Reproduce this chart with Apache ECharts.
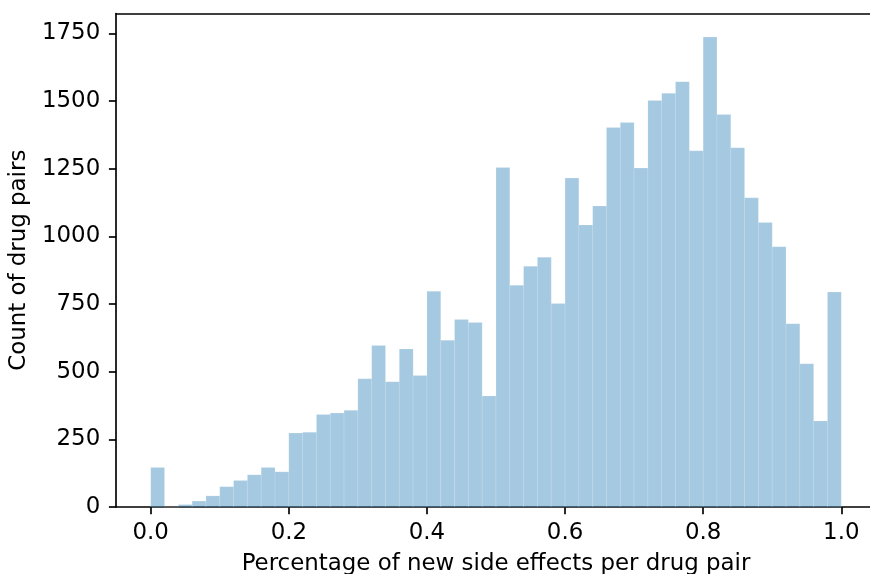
<!DOCTYPE html>
<html>
<head>
<meta charset="utf-8">
<script src="https://cdn.jsdelivr.net/npm/echarts@6/dist/echarts.min.js"></script>
<style>html,body{margin:0;padding:0;background:#fff;overflow:hidden;width:870px;height:574px}#c{position:absolute;left:0;top:0;width:876px;height:574px}</style>
</head>
<body>
<div id="c"></div>
<script>
const binLefts = [0.00,0.02,0.04,0.06,0.08,0.10,0.12,0.14,0.16,0.18,
                  0.20,0.22,0.24,0.26,0.28,0.30,0.32,0.34,0.36,0.38,
                  0.40,0.42,0.44,0.46,0.48,0.50,0.52,0.54,0.56,0.58,
                  0.60,0.62,0.64,0.66,0.68,0.70,0.72,0.74,0.76,0.78,
                  0.80,0.82,0.84,0.86,0.88,0.90,0.92,0.94,0.96,0.98];
const binWidth = 0.02;
const counts = [146,0,9,22,41,75,98,119,146,130,
                273,276,342,347,357,474,597,463,584,486,
                797,616,693,682,410,1254,819,889,923,752,
                1215,1042,1112,1402,1420,1252,1502,1528,1571,1316,
                1736,1450,1327,1142,1051,961,677,529,318,794];
const xTicks = [0.0,0.2,0.4,0.6,0.8,1.0];
const yTicks = [0,250,500,750,1000,1250,1500,1750];
const xLabel = 'Percentage of new side effects per drug pair';
const yLabel = 'Count of drug pairs';

const FONT = 'DejaVu Sans';
const FS = 22.9;
const data = binLefts.map((b, i) => [b, b + binWidth, counts[i]]);

const chart = echarts.init(document.getElementById('c'), null, {renderer: 'canvas', width: 876, height: 574});
chart.setOption({
  animation: false,
  backgroundColor: '#ffffff',
  grid: {left: 116.2, width: 759.6, top: 13.5, height: 493.5, containLabel: false, outerBoundsMode: 'none'},
  xAxis: [{
    type: 'value', min: -0.05, max: 1.05, position: 'bottom',
    axisLine: {show: true, onZero: false, lineStyle: {color: '#000', width: 1.67}},
    axisTick: {show: true, length: 7.3, lineStyle: {color: '#000', width: 1.67}, customValues: xTicks},
    axisLabel: {show: true, color: '#000', fontFamily: FONT, fontSize: FS, margin: 15,
      customValues: xTicks, formatter: v => Number(v).toFixed(1)},
    splitLine: {show: false},
    name: xLabel, nameLocation: 'middle', nameGap: 46,
    nameTextStyle: {color: '#000', fontFamily: FONT, fontSize: FS}
  }, {
    type: 'value', min: -0.05, max: 1.05, position: 'top',
    axisLine: {show: true, onZero: false, lineStyle: {color: '#000', width: 1.67}},
    axisTick: {show: false}, axisLabel: {show: false}, splitLine: {show: false}
  }],
  yAxis: {
    type: 'value', min: 0, max: 1823,
    axisLine: {show: true, onZero: false, lineStyle: {color: '#000', width: 1.67}},
    axisTick: {show: true, length: 7.3, lineStyle: {color: '#000', width: 1.67}, customValues: yTicks},
    axisLabel: {show: true, color: '#000', fontFamily: FONT, fontSize: FS, margin: 16,
      customValues: yTicks, formatter: v => String(v)},
    splitLine: {show: false},
    name: yLabel, nameLocation: 'middle', nameGap: 78,
    nameTextStyle: {color: '#000', fontFamily: FONT, fontSize: FS}
  },
  series: [{
    type: 'custom',
    xAxisIndex: 0,
    data: data,
    encode: {x: [0, 1], y: 2},
    renderItem: function (params, api) {
      const p0 = api.coord([api.value(0), api.value(2)]);
      const p1 = api.coord([api.value(1), 0]);
      return {
        type: 'rect',
        shape: {x: p0[0], y: p0[1], width: p1[0] - p0[0], height: p1[1] - p0[1]},
        style: {fill: 'rgba(31,119,180,0.4)', stroke: 'rgba(255,255,255,0.3)', lineWidth: 0.5}
      };
    }
  }]
});
</script>
</body>
</html>
